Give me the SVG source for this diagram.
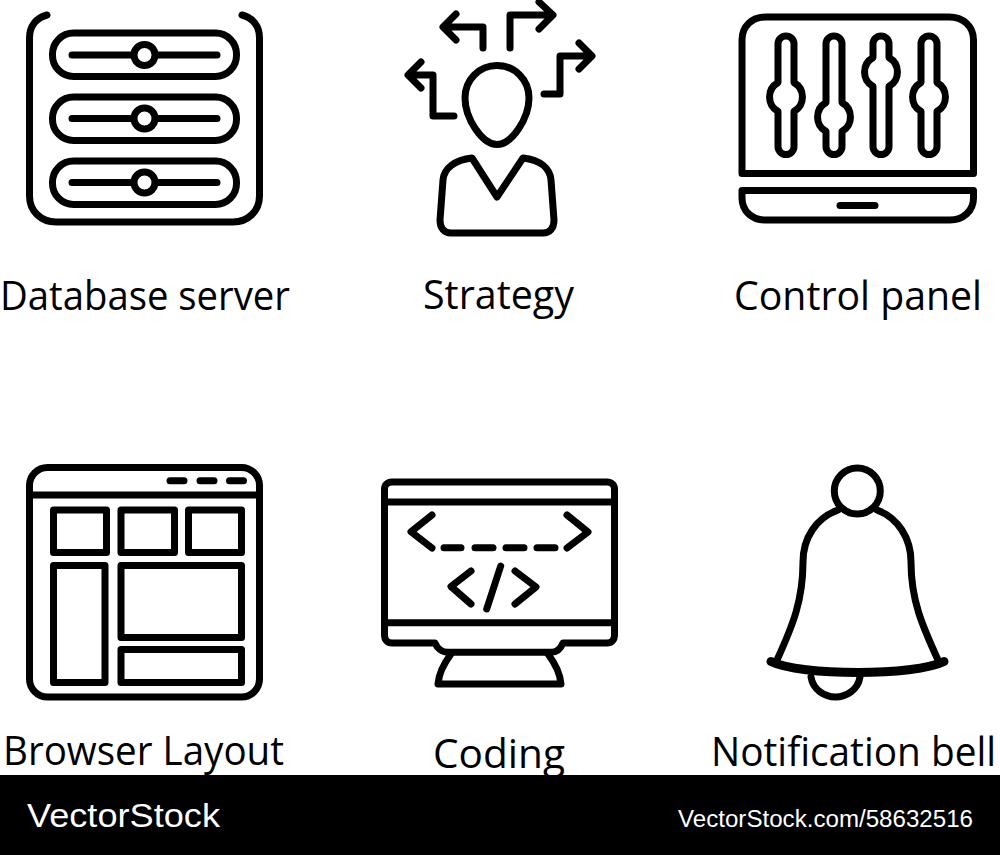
<svg xmlns="http://www.w3.org/2000/svg" width="1000" height="855" viewBox="0 0 1000 855">
<style>
.s{fill:none;stroke:#000;stroke-width:7;stroke-linecap:round;stroke-linejoin:round}
.d{fill:#fff;stroke:#000;stroke-width:7}
.l{font-family:"Open Sans","Noto Sans",sans-serif;font-size:40px;fill:#000}
.w{font-family:"Liberation Sans",Arial,sans-serif;fill:#fff}
</style>
<rect width="1000" height="855" fill="#fff"/>
<g id="database-server">
<path class="s" d="M47 15C36 18 29.500 26 29.500 38V196C29.500 211 41 222 56 222H233C248 222 259.500 211 259.500 196V38C259.500 26 253 18 242 15"/>
<rect class="s" x="52.500" y="33" width="184" height="43.500" rx="21"/>
<rect class="s" x="52.500" y="97" width="184" height="43.500" rx="21"/>
<rect class="s" x="52.500" y="161" width="184" height="43.500" rx="21"/>
<path class="s" d="M72 55H217M72 118.500H217M72 182.500H217"/>
<circle class="d" cx="144.500" cy="55" r="10.500"/>
<circle class="d" cx="144.500" cy="118.500" r="10.500"/>
<circle class="d" cx="144.500" cy="182.500" r="10.500"/>
<text class="l" x="0" y="310" textLength="290" lengthAdjust="spacingAndGlyphs">Database server</text>
</g>
<g id="strategy">
<path class="s" d="M483 48V27H446M456 14L443 27L456 40"/>
<path class="s" d="M510 48V15H551M539 2L553 15L539 29"/>
<path class="s" d="M544 94H560V56H590M579 43L592 56L579 69"/>
<path class="s" d="M454 116H433V75H411M421 62L408 75L421 88"/>
<path class="s" d="M497 65.500C515 65.500 529 80 529 98C529 118 512 144.500 497 144.500C482 144.500 465 118 465 98C465 80 479 65.500 497 65.500Z"/>
<path class="s" d="M472 158L497 197L523 158C540 160 550 168 551 180L554 220C554 228 550 233 543 233H451C444 233 440 228 440 220L443 180C444 168 455 160 472 158Z"/>
<text class="l" x="423" y="308.500" textLength="151" lengthAdjust="spacingAndGlyphs">Strategy</text>
</g>
<g id="control-panel">
<path class="s" d="M742 173.500V40C742 26 752 17 766 17H949C963 17 973.500 26 973.500 40V173.500Z"/>
<path class="s" d="M742 190.500H973.500V198C973.500 211 963 220 950 220H765C752 220 742 211 742 198Z"/>
<path class="s" d="M840 205.500H875"/>
<path class="s" d="M778 44A8 8 0 0 1 794 44V82.600A16.500 16.500 0 0 1 794 111.400V146.500A8 8 0 0 1 778 146.500V111.400A16.500 16.500 0 0 1 778 82.600Z"/>
<path class="s" d="M826 44A8 8 0 0 1 842 44V102.600A16.500 16.500 0 0 1 842 131.400V146.500A8 8 0 0 1 826 146.500V131.400A16.500 16.500 0 0 1 826 102.600Z"/>
<path class="s" d="M873 44A8 8 0 0 1 889 44V57.600A16.500 16.500 0 0 1 889 86.400V146.500A8 8 0 0 1 873 146.500V86.400A16.500 16.500 0 0 1 873 57.600Z"/>
<path class="s" d="M921 44A8 8 0 0 1 937 44V82.600A16.500 16.500 0 0 1 937 111.400V146.500A8 8 0 0 1 921 146.500V111.400A16.500 16.500 0 0 1 921 82.600Z"/>
<text class="l" x="734" y="310" textLength="248" lengthAdjust="spacingAndGlyphs">Control panel</text>
</g>
<g id="browser-layout">
<rect class="s" x="29.500" y="467.500" width="230" height="229.500" rx="18"/>
<path class="s" d="M29.500 495H259.500M170 480.700H184M200 480.700H214M229.500 480.700H243.500"/>
<rect class="s" x="53.500" y="510" width="53" height="42.500"/>
<rect class="s" x="121" y="510" width="53.500" height="42.500"/>
<rect class="s" x="188.500" y="510" width="53" height="42.500"/>
<rect class="s" x="53.500" y="565.500" width="51.500" height="117"/>
<rect class="s" x="121" y="565.500" width="120.500" height="72"/>
<rect class="s" x="121" y="649.500" width="120.500" height="33"/>
<text class="l" x="3" y="765" textLength="281" lengthAdjust="spacingAndGlyphs">Browser Layout</text>
</g>
<g id="coding">
<path class="s" d="M392 482H607C611.500 482 614.500 485 614.500 489V635C614.500 640 611.500 643 607 643H563C561 648 557 652.300 551 652.300H448C442 652.300 437 648 435 643H392C387.500 643 384.500 640 384.500 635V489C384.500 485 387.500 482 392 482Z"/>
<path class="s" d="M384.500 502H614.500M384.500 622.700H614.500"/>
<path class="s" d="M451 654C445 662 439 671 438 684H561C560 671 554 662 548 654"/>
<path class="s" d="M432 515L411 531.700L432 548M567 515L588 532L567 548"/>
<path class="s" d="M444 547.700H461M475 547.700H493M506 547.700H524M537 547.700H555"/>
<path class="s" d="M471 571L451 586.500L471 604M515 571L536 587L515 604M500.700 566L486.700 609"/>
<text class="l" x="433" y="768" textLength="132" lengthAdjust="spacingAndGlyphs">Coding</text>
</g>
<g id="notification-bell">
<circle class="s" cx="857.300" cy="491" r="23"/>
<path class="s" d="M838 510C816 518 803 538 803 562C803 600 793 625 777 660M877 510C898 518 911 538 911 562C911 600 922 625 938 660"/>
<path d="M771 661.500C800 676 915 676 944 661.500" fill="none" stroke="#000" stroke-width="9" stroke-linecap="round"/>
<path class="s" d="M811 677C813 690 825 697 835.500 697C846 697 858 690 860 677"/>
<text class="l" x="711" y="766" textLength="285" lengthAdjust="spacingAndGlyphs">Notification bell</text>
</g>
<g id="watermark-bar">
<rect x="0" y="775" width="1000" height="80" fill="#000"/>
<text class="w" x="27" y="827" font-size="33" textLength="193" lengthAdjust="spacingAndGlyphs">VectorStock</text>
<text class="w" x="678" y="827" font-size="23" textLength="295" lengthAdjust="spacingAndGlyphs">VectorStock.com/58632516</text>
</g>
</svg>
